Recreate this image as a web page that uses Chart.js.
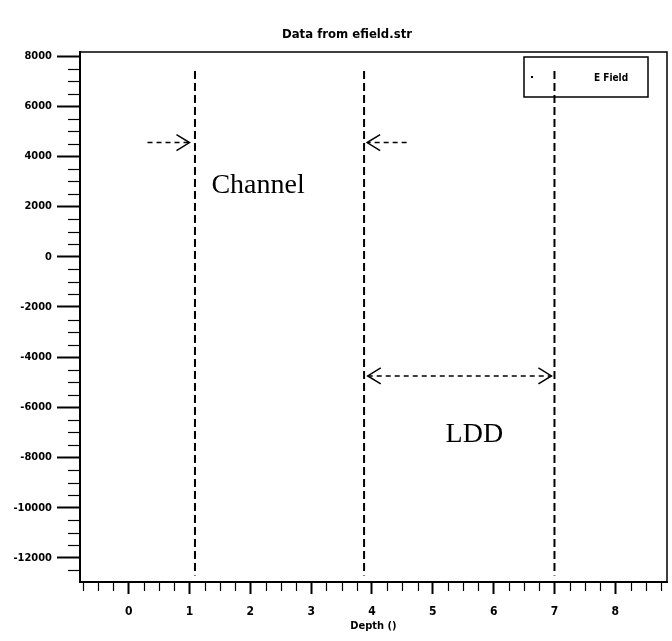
<!DOCTYPE html>
<html>
<head>
<meta charset="utf-8">
<script src="https://cdn.jsdelivr.net/npm/chart.js@4/dist/chart.umd.min.js"></script>
<style>
  html, body { margin: 0; padding: 0; background: #ffffff; }
  #wrap { width: 672px; height: 641px; }
</style>
</head>
<body>
<div id="wrap"><canvas id="c" width="672" height="641"></canvas></div>
<script>
// ---- chart content ----
const chartTitle = 'Data from efield.str';
const xAxisTitle = 'Depth ()';
const seriesLabel = 'E Field';

// depth positions of the vertical region boundaries and their vertical extent
const boundaryX = [1.09, 3.87, 7.0];
const boundaryTop = 7400;
const boundaryBottom = -12700;

// annotation arrows (data units)
const arrowFromX = [0.31, 4.57, 3.93];
const arrowToX   = [1.0, 3.92, 6.95];
const arrowY     = [4550, 4550, -4750];
const arrowBoth  = [false, false, true];

// region names and where their text starts (left edge, baseline)
const regionNames = ['Channel', 'LDD'];
const regionX = [1.36, 5.21];
const regionY = [2540, -7380];

// labelled tick values
const xTickValues = [0, 1, 2, 3, 4, 5, 6, 7, 8];
const yTickValues = [8000, 6000, 4000, 2000, 0, -2000, -4000, -6000, -8000, -10000, -12000];

// axis ranges and minor tick steps
const xMin = -0.8, xMax = 8.85, xMinorStep = 0.25;
const yMin = -12960, yMax = 8160, yMinorStep = 500;

const NARROW = "'Liberation Sans Narrow', 'DejaVu Sans Condensed', 'Liberation Sans', Arial, sans-serif";
const SERIF = "'Liberation Serif', 'DejaVu Serif', serif";

// boundary lines as one series, broken between lines
const boundaryData = [];
boundaryX.forEach((bx, i) => {
  if (i > 0) boundaryData.push({ x: bx, y: null });
  boundaryData.push({ x: bx, y: boundaryTop });
  boundaryData.push({ x: bx, y: boundaryBottom });
});

const arrowSets = arrowFromX.map((fx, i) => ({
  label: 'arrow' + i,
  data: [{ x: fx, y: arrowY[i] }, { x: arrowToX[i], y: arrowY[i] }],
  showLine: true,
  borderColor: '#000',
  borderWidth: 1.5,
  borderDash: [5, 4],
  pointRadius: 0,
  fill: false
}));

// values of all minor tick marks inside a range
function minorValues(min, max, step) {
  const out = [];
  for (let k = Math.ceil(min / step); k * step <= max + 1e-9; k++) out.push(k * step);
  return out;
}

function head(ctx, tipX, tipY, dir) {
  // open chevron arrowhead; dir = +1 points right, -1 points left
  ctx.beginPath();
  ctx.moveTo(tipX - dir * 13, tipY - 8);
  ctx.lineTo(tipX, tipY);
  ctx.lineTo(tipX - dir * 13, tipY + 8);
  ctx.stroke();
}

const decorations = {
  id: 'decorations',
  afterDatasetsDraw(chart) {
    const { ctx, chartArea: a, scales: { x, y } } = chart;
    ctx.save();
    ctx.strokeStyle = '#000';
    ctx.fillStyle = '#000';
    ctx.setLineDash([]);

    // chart title, a little left of the plot centre
    ctx.font = 'bold 13px ' + NARROW;
    ctx.textAlign = 'center';
    ctx.textBaseline = 'middle';
    ctx.fillText(chartTitle, 347, 35);

    // arrowheads
    ctx.lineWidth = 1.5;
    arrowFromX.forEach((fx, i) => {
      const py = y.getPixelForValue(arrowY[i]);
      const p0 = x.getPixelForValue(fx);
      const p1 = x.getPixelForValue(arrowToX[i]);
      const dir = p1 > p0 ? 1 : -1;
      head(ctx, p1, py, dir);
      if (arrowBoth[i]) head(ctx, p0, py, -dir);
    });

    // region names
    ctx.font = '28px ' + SERIF;
    ctx.textAlign = 'left';
    ctx.textBaseline = 'alphabetic';
    regionNames.forEach((t, i) => {
      ctx.fillText(t, x.getPixelForValue(regionX[i]), y.getPixelForValue(regionY[i]));
    });

    // legend box
    const lx = a.right - 143, ly = a.top + 5, lw = 124, lh = 40;
    ctx.lineWidth = 1.5;
    ctx.strokeRect(lx, ly, lw, lh);
    ctx.fillRect(lx + 7, ly + lh / 2 - 1, 2, 2);
    ctx.font = 'bold 10px ' + NARROW;
    ctx.textBaseline = 'middle';
    ctx.fillText(chart.data.datasets[0].label, lx + 70, ly + lh / 2 + 1);

    // frame top and right
    ctx.lineWidth = 1.5;
    ctx.beginPath();
    ctx.moveTo(a.left, a.top);
    ctx.lineTo(a.right, a.top);
    ctx.lineTo(a.right, a.bottom);
    ctx.stroke();

    // minor tick marks
    ctx.lineWidth = 1.2;
    minorValues(yMin, yMax, yMinorStep).forEach(v => {
      if (yTickValues.includes(v)) return;
      const py = Math.round(y.getPixelForValue(v)) + 0.5;
      ctx.beginPath();
      ctx.moveTo(a.left - 12, py);
      ctx.lineTo(a.left, py);
      ctx.stroke();
    });
    minorValues(xMin, xMax, xMinorStep).forEach(v => {
      if (xTickValues.includes(v)) return;
      const px = Math.round(x.getPixelForValue(v)) + 0.5;
      ctx.beginPath();
      ctx.moveTo(px, a.bottom);
      ctx.lineTo(px, a.bottom + 9);
      ctx.stroke();
    });
    ctx.restore();
  }
};

new Chart(document.getElementById('c'), {
  type: 'scatter',
  data: {
    datasets: [{
      label: seriesLabel,
      data: boundaryData,
      showLine: true,
      spanGaps: false,
      borderColor: '#000',
      borderWidth: 2,
      borderDash: [8, 4],
      pointRadius: 0,
      fill: false
    }, ...arrowSets]
  },
  options: {
    responsive: false,
    animation: false,
    layout: { padding: { left: 0, right: 5, top: 52, bottom: 0 } },
    plugins: {
      legend: { display: false },
      tooltip: { enabled: false },
      title: { display: false }
    },
    scales: {
      x: {
        type: 'linear',
        min: xMin, max: xMax,
        afterBuildTicks: s => { s.ticks = xTickValues.map(v => ({ value: v })); },
        border: { display: true, color: '#000', width: 2 },
        grid: { display: true, drawOnChartArea: false, tickLength: 12, tickWidth: 2, tickColor: '#000' },
        ticks: {
          autoSkip: false,
          maxRotation: 0,
          padding: 11,
          color: '#000',
          font: { family: NARROW, size: 12, weight: 'bold' },
          callback: v => String(v)
        },
        title: {
          display: true,
          text: xAxisTitle,
          color: '#000',
          font: { family: NARROW, size: 11, weight: 'bold' },
          padding: { top: 0, bottom: 8 }
        },
        afterFit: s => { s.height = 59; }
      },
      y: {
        type: 'linear',
        min: yMin, max: yMax,
        afterBuildTicks: s => { s.ticks = yTickValues.map(v => ({ value: v })); },
        border: { display: true, color: '#000', width: 2 },
        grid: { display: true, drawOnChartArea: false, tickLength: 23, tickWidth: 2, tickColor: '#000' },
        ticks: {
          autoSkip: false,
          padding: 5,
          color: '#000',
          font: { family: NARROW, size: 11, weight: 'bold' },
          callback: v => String(v)
        },
        afterFit: s => { s.width = 80; }
      }
    }
  },
  plugins: [decorations]
});
</script>
</body>
</html>
